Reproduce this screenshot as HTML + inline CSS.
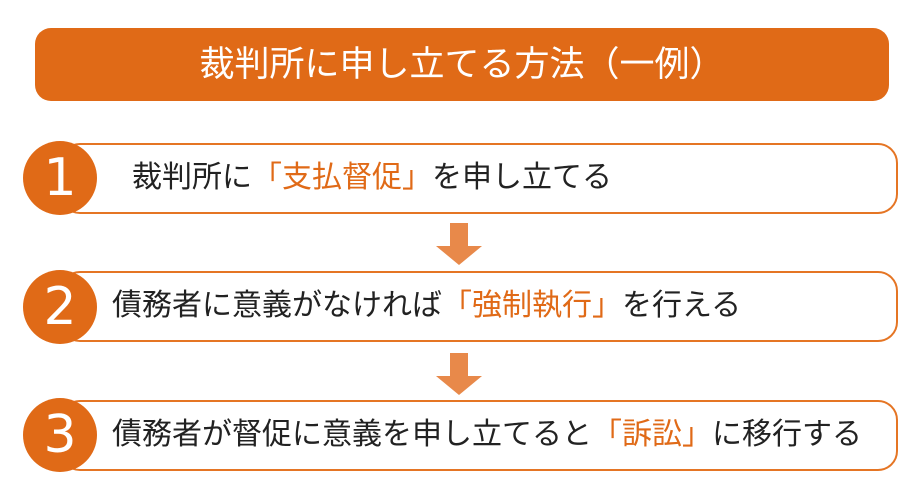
<!DOCTYPE html>
<html><head><meta charset="utf-8"><style>
body{margin:0;width:920px;height:501px;background:#fff;position:relative;overflow:hidden;font-family:"Liberation Sans","Noto Sans CJK JP",sans-serif;}
.hd{position:absolute;left:35px;top:28px;width:854px;height:73px;background:#e06a17;border-radius:16px;color:#fff;font-size:35px;line-height:73px;text-align:center;}
.box{position:absolute;left:60px;width:834px;height:67px;border:2px solid #e57524;border-radius:20px;box-sizing:content-box;}
.c{position:absolute;left:23px;width:74px;height:74px;border-radius:50%;background:#e06a17;color:#fff;font-size:52px;line-height:74px;text-align:center;font-family:"DejaVu Sans",sans-serif;}
.t{position:absolute;font-size:30px;color:#222;white-space:nowrap;line-height:36px;}
.o{color:#e06a17;}
.ar{position:absolute;left:436px;width:46px;height:42px;}
</style></head><body>
<div class="hd">裁判所に申し立てる方法（一例）</div>
<div class="box" style="top:143px"></div>
<div class="box" style="top:271px"></div>
<div class="box" style="top:400px"></div>
<div class="c" style="top:141px">1</div>
<div class="c" style="top:270px">2</div>
<div class="c" style="top:398px">3</div>
<div class="t" style="left:132px;top:160px">裁判所に<span class="o">「支払督促」</span>を申し立てる</div>
<div class="t" style="left:112px;top:288px">債務者に意義がなければ<span class="o">「強制執行」</span>を行える</div>
<div class="t" style="left:112px;top:417px">債務者が督促に意義を申し立てると<span class="o">「訴訟」</span>に移行する</div>
<svg class="ar" style="top:223px" viewBox="0 0 46 42"><polygon points="14,0 32,0 32,23 46,23 23,42 0,23 14,23" fill="#e8894a"/></svg>
<svg class="ar" style="top:353px" viewBox="0 0 46 42"><polygon points="14,0 32,0 32,23 46,23 23,42 0,23 14,23" fill="#e8894a"/></svg>
</body></html>
